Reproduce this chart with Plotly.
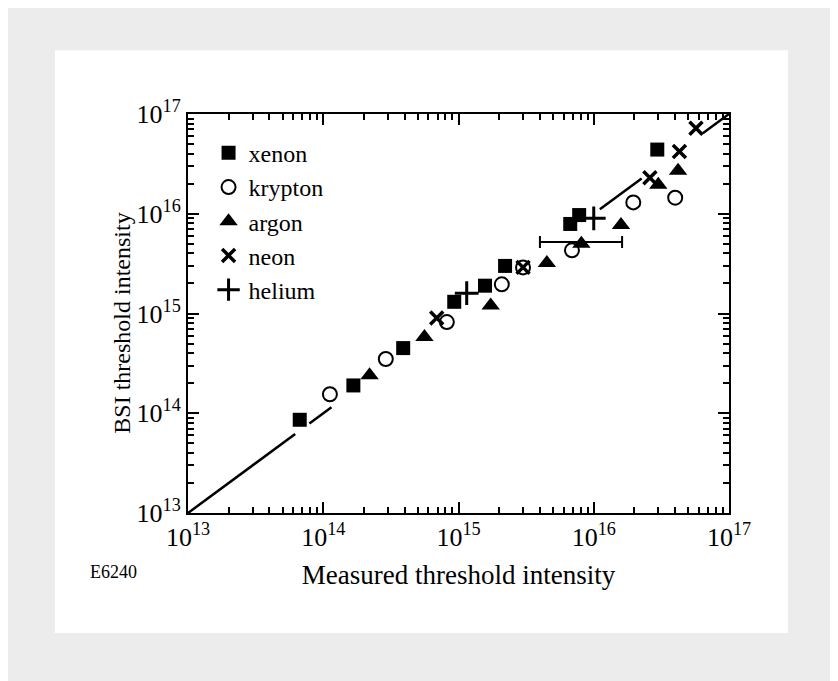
import plotly.graph_objects as go

# ---- data ----
xenon_x = [6.7e13, 1.67e14, 3.9e14, 9.3e14, 1.57e15, 2.21e15, 6.7e15, 7.8e15, 2.95e16]
xenon_y = [8.6e13, 1.9e14, 4.5e14, 1.31e15, 1.9e15, 3.0e15, 7.9e15, 9.7e15, 4.4e16]

krypton_x = [1.12e14, 2.9e14, 8.2e14, 2.09e15, 3.0e15, 6.9e15, 1.96e16, 4.0e16]
krypton_y = [1.55e14, 3.5e14, 8.2e14, 1.96e15, 2.9e15, 4.3e15, 1.3e16, 1.45e16]

argon_x = [2.2e14, 5.6e14, 1.73e15, 4.5e15, 8.1e15, 1.59e16, 3.0e16, 4.2e16]
argon_y = [2.4e14, 5.8e14, 1.2e15, 3.2e15, 5.0e15, 7.7e15, 1.95e16, 2.7e16]

neon_x = [6.9e14, 3.0e15, 2.6e16, 4.3e16, 5.7e16]
neon_y = [9.0e14, 2.9e15, 2.3e16, 4.2e16, 7.2e16]

helium_x = [1.15e15, 1.0e16]
helium_y = [1.6e15, 9.0e15]

# horizontal error bar on the argon point near 8e15
err_x = [8.1e15]
err_y = [5.2e15]
err_plus = [1.62e16 - 8.1e15]
err_minus = [8.1e15 - 4.0e15]

# y = x reference line, broken around the markers
diag = [1e13, 6.2e13, None, 7.9e13, 1.15e14, None, 1.11e16, 2.26e16, None, 6.4e16, 1e17]

tick_vals = [1e13, 1e14, 1e15, 1e16, 1e17]
tick_text = ["10<sup>13</sup>", "10<sup>14</sup>", "10<sup>15</sup>", "10<sup>16</sup>", "10<sup>17</sup>"]

FONT = "Liberation Serif"

fig = go.Figure()

fig.add_trace(go.Scatter(x=diag, y=diag, mode="lines", line=dict(color="black", width=2.5),
                         showlegend=False, hoverinfo="skip"))

fig.add_trace(go.Scatter(x=err_x, y=err_y, mode="markers", marker=dict(size=1, opacity=0),
                         error_x=dict(type="data", symmetric=False, array=err_plus, arrayminus=err_minus,
                                      color="black", thickness=2, width=6),
                         showlegend=False, hoverinfo="skip"))

fig.add_trace(go.Scatter(x=xenon_x, y=xenon_y, mode="markers", name="xenon",
                         marker=dict(symbol="square", size=14, color="black")))
fig.add_trace(go.Scatter(x=krypton_x, y=krypton_y, mode="markers", name="krypton",
                         marker=dict(symbol="circle-open", size=14, color="black", line=dict(width=2, color="black"))))
fig.add_trace(go.Scatter(x=argon_x, y=argon_y, mode="markers", name="argon",
                         marker=dict(symbol="triangle-up", size=16, color="black")))
fig.add_trace(go.Scatter(x=neon_x, y=neon_y, mode="markers", name="neon",
                         marker=dict(symbol="x-thin-open", size=13, color="black", line=dict(width=3.5, color="black"))))
fig.add_trace(go.Scatter(x=helium_x, y=helium_y, mode="markers", name="helium",
                         marker=dict(symbol="cross-thin-open", size=17, color="black", line=dict(width=3, color="black"))))

axis_common = dict(
    type="log", showline=True, linecolor="black", linewidth=2, mirror="allticks",
    ticks="inside", ticklen=11, tickwidth=2, tickcolor="black",
    tickvals=tick_vals, ticktext=tick_text, showgrid=False, zeroline=False,
    minor=dict(ticks="inside", ticklen=6, tickwidth=1.5, tickcolor="black", dtick="D1", showgrid=False),
    tickfont=dict(family=FONT, size=26, color="black"),
)

fig.update_xaxes(range=[13, 17], title=dict(text="Measured threshold intensity",
                 font=dict(family=FONT, size=27, color="black"), standoff=14), **axis_common)
fig.update_yaxes(range=[13, 17], **axis_common)

# y-axis title placed as rotated text (slightly below the plot centre, as in the reference)
fig.add_annotation(text="BSI threshold intensity", xref="paper", yref="paper", x=-0.122, y=0.477,
                   xanchor="center", yanchor="middle", textangle=-90, showarrow=False,
                   font=dict(family=FONT, size=24, color="black"))

fig.add_annotation(text="E6240", xref="paper", yref="paper", x=-0.185, y=-0.148,
                   xanchor="left", yanchor="middle", showarrow=False,
                   font=dict(family=FONT, size=18, color="black"))

# white page on a speckled-grey scan border
fig.add_shape(type="rect", xref="paper", yref="paper", x0=-0.246, x1=1.109, y0=-0.301, y1=1.16,
              fillcolor="white", line=dict(width=0), layer="below")

fig.update_layout(
    width=838, height=681,
    margin=dict(l=180, r=117, t=106, b=176),
    paper_bgcolor="#ececec", plot_bgcolor="white",
    font=dict(family=FONT, color="black"),
    showlegend=True,
    legend=dict(x=0.038, y=0.958, xanchor="left", yanchor="top", bgcolor="rgba(0,0,0,0)",
                font=dict(family=FONT, size=24, color="black"), itemwidth=30, tracegroupgap=0),
)

fig.write_html("out.html")
